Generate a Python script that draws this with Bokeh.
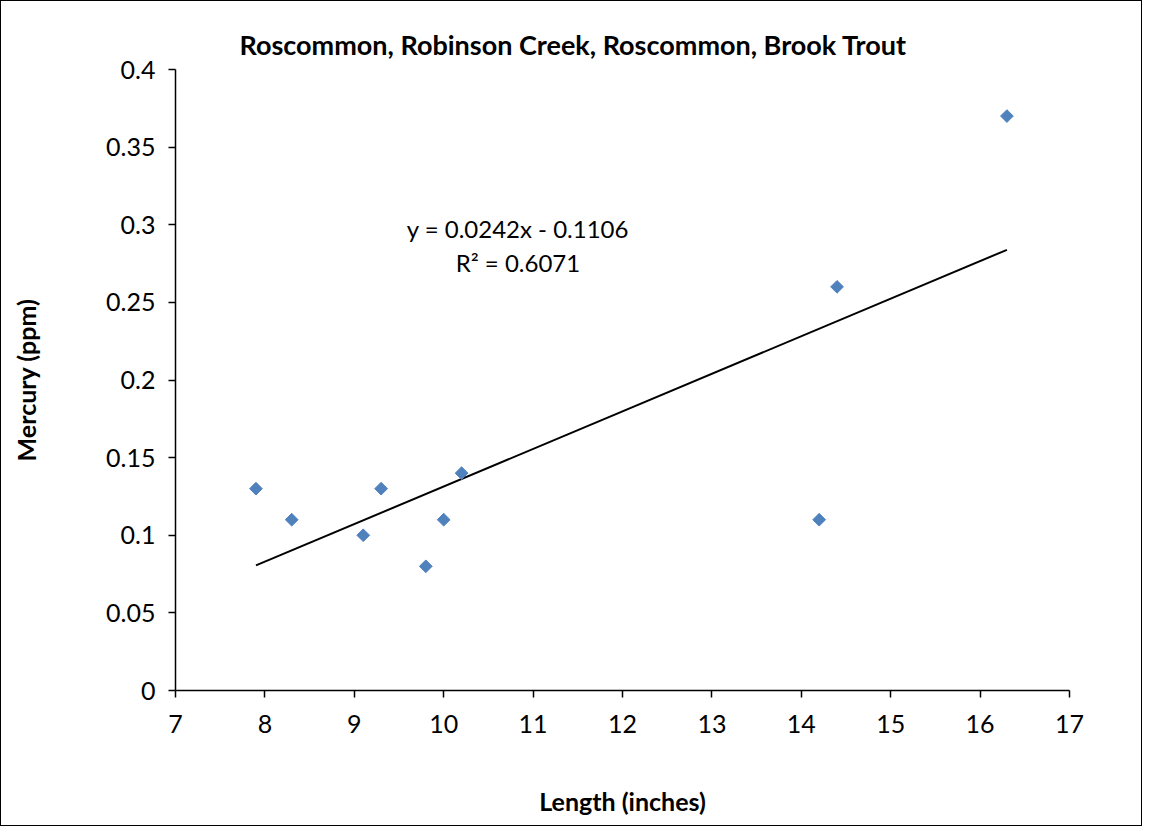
from bokeh.plotting import figure
from bokeh.models import Range1d, FixedTicker, NumeralTickFormatter, Label
from bokeh.embed import file_html
from bokeh.resources import INLINE

# Data
length_in = [7.9, 8.3, 9.1, 9.3, 9.8, 10.0, 10.2, 14.2, 14.4, 16.3]
mercury_ppm = [0.13, 0.11, 0.10, 0.13, 0.08, 0.11, 0.14, 0.11, 0.26, 0.37]
slope = 0.0242
intercept = -0.1106
r_squared = 0.6071
title_text = "Roscommon, Robinson Creek, Roscommon, Brook Trout"
x_ticks = [7, 8, 9, 10, 11, 12, 13, 14, 15, 16, 17]
y_ticks = [0, 0.05, 0.1, 0.15, 0.2, 0.25, 0.3, 0.35, 0.4]

FONT = "Lato"

p = figure(width=1140, height=824, output_backend="svg", toolbar_location=None,
           x_range=Range1d(7, 17), y_range=Range1d(0, 0.4),
           min_border_left=174, min_border_top=68, min_border_right=72, min_border_bottom=135)
p.frame_width = 894
p.frame_height = 621
p.styles = {"border": "1.5px solid black"}
p.outline_line_color = None
p.xgrid.visible = False
p.ygrid.visible = False

p.title.text = title_text
p.title.align = "left"
p.title.offset = 64
p.title.text_font = FONT
p.title.text_font_size = "27px"
p.title.text_font_style = "bold"
p.title.text_color = "black"
p.title.standoff = 18

for ax in (p.xaxis[0], p.yaxis[0]):
    ax.axis_line_color = "black"
    ax.axis_line_width = 1.5
    ax.major_tick_line_color = "black"
    ax.major_tick_line_width = 1.5
    ax.major_tick_out = 7
    ax.major_tick_in = 0
    ax.minor_tick_line_color = None
    ax.major_label_text_font = FONT
    ax.major_label_text_font_size = "25px"
    ax.major_label_text_color = "black"
    ax.axis_label_text_font = FONT
    ax.axis_label_text_font_size = "25px"
    ax.axis_label_text_font_style = "bold"
    ax.axis_label_text_color = "black"

p.xaxis.ticker = FixedTicker(ticks=x_ticks)
p.yaxis.ticker = FixedTicker(ticks=y_ticks)
p.yaxis.formatter = NumeralTickFormatter(format="0.[00]")
p.xaxis.major_label_standoff = 17
p.yaxis.major_label_standoff = 13
p.xaxis.axis_label = "Length (inches)"
p.yaxis.axis_label = "Mercury (ppm)"
p.xaxis.axis_label_standoff = 50
p.yaxis.axis_label_standoff = 62

# Trendline
x0, x1 = min(length_in), max(length_in)
p.line([x0, x1], [slope * x0 + intercept, slope * x1 + intercept], line_color="black", line_width=2)

# Points
p.scatter(length_in, mercury_ppm, marker="square", size=9, angle=0.785398,
          fill_color="#4F81BD", line_color="#4F81BD")

p.add_layout(Label(x=10.83, y=0.2976, text=f"y = {slope}x - {abs(intercept)}",
                   text_align="center", text_baseline="middle", text_font=FONT,
                   text_font_size="24px", text_color="black"))
p.add_layout(Label(x=10.83, y=0.2757, text=f"R² = {r_squared}",
                   text_align="center", text_baseline="middle", text_font=FONT,
                   text_font_size="24px", text_color="black"))

open("out.html", "w").write(file_html(p, INLINE))
